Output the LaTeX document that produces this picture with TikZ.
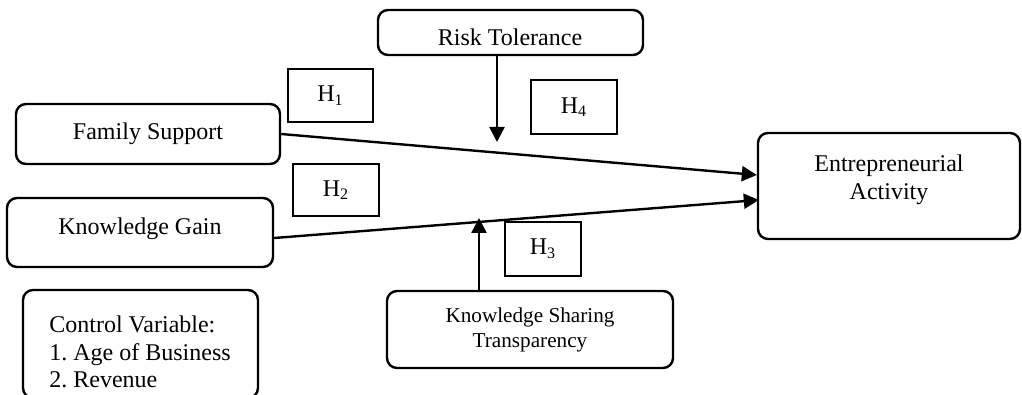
\documentclass[tikz,border=0pt]{standalone}
\usepackage{fontspec}
\setmainfont{Liberation Serif}
\usetikzlibrary{arrows.meta}
\frenchspacing
\tikzset{
  box/.style={draw, line width=1.2pt, rounded corners=5pt, inner sep=0pt},
  hbox/.style={draw, line width=1pt, inner sep=0pt, font=\fontsize{12pt}{14pt}\selectfont},
  txt/.style={inner sep=0pt, align=center, font=\fontsize{12pt}{14pt}\selectfont},
  conn/.style={line width=1.2pt, -{Triangle[width=7.5pt,length=7.5pt]}}
}
\begin{document}
\begin{tikzpicture}[x=0.5pt, y=-0.5pt]
\clip (0,0) rectangle (1022,395);
% boxes
\node[box, minimum width=132.5pt, minimum height=22.5pt] (rt) at (510.5,32.5) {};
\node[txt] (rttext) at (510,37) {Risk Tolerance};
\node[box, minimum width=132pt, minimum height=30pt, txt] (fs) at (148,134) {Family Support};
\node[box, minimum width=133pt, minimum height=34.5pt] (kg) at (140,232.5) {};
\node[txt] (kgtext) at (140,229) {Knowledge Gain};
\node[box, minimum width=117.5pt, minimum height=54pt] (cv) at (140.5,344) {};
\node[txt, align=left, anchor=west, font=\fontsize{12pt}{13.8pt}\selectfont] (cvtext) at (49,352) {Control Variable:\\1.\ Age of Business\\2.\ Revenue};
\node[box, minimum width=143pt, minimum height=38.5pt, align=center, font=\fontsize{10.6pt}{12.5pt}\selectfont] (kst) at (530,329.5) {Knowledge Sharing\\Transparency};
\node[box, minimum width=131pt, minimum height=53pt] (ea) at (889,186) {};
\node[txt] (eatext) at (889,180) {Entrepreneurial\\Activity};
% hypothesis labels
\node[hbox, minimum width=42.5pt, minimum height=26.5pt] (h1) at (330.5,95.5) {H\textsubscript{1}};
\node[hbox, minimum width=43pt, minimum height=26pt] (h2) at (336,190) {H\textsubscript{2}};
\node[hbox, minimum width=43pt, minimum height=27pt] (h4) at (574,107) {H\textsubscript{4}};
\node[hbox, minimum width=38pt, minimum height=27pt] (h3) at (543,249) {H\textsubscript{3}};
% connectors
\coordinate (rtip) at (497,142);
\coordinate (ktip) at (479,218);
\draw[conn] (fs.east) -- ([yshift=5.5pt]ea.west);
\draw[conn] ([yshift=-2.75pt]kg.east) -- ([yshift=-7pt,xshift=1pt]ea.west);
\draw[conn] (rt.south -| rtip) -- (rtip);
\draw[conn] (kst.north -| ktip) -- (ktip);
\end{tikzpicture}
\end{document}
